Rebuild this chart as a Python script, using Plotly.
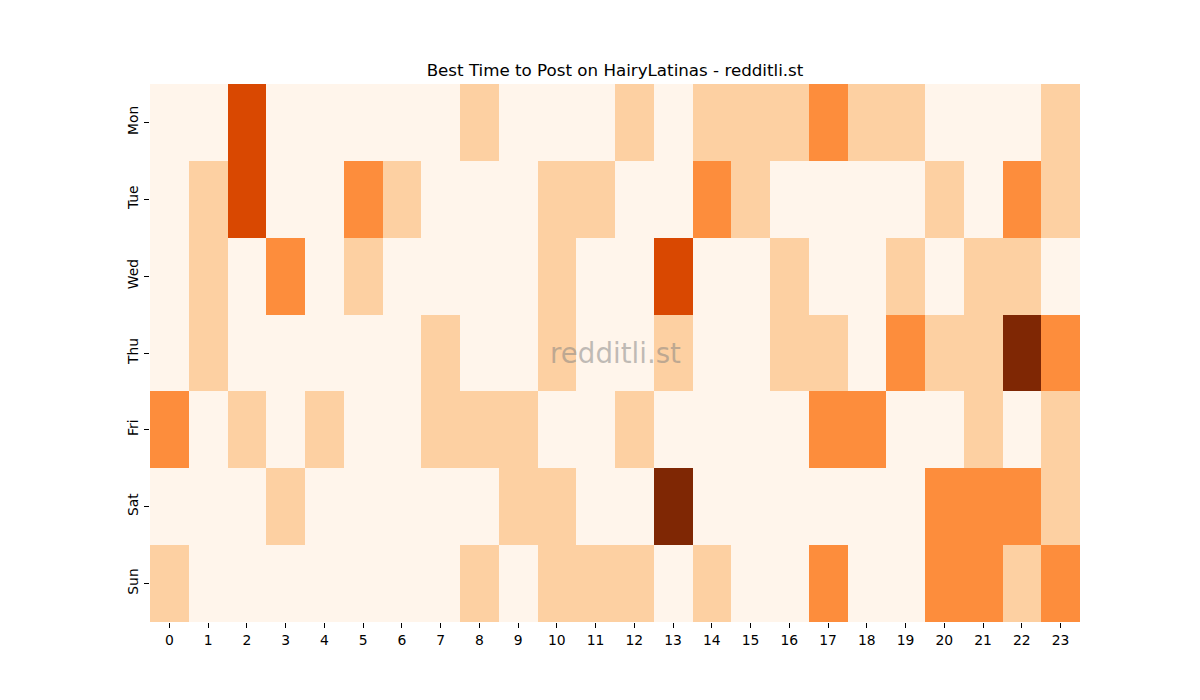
import plotly.graph_objects as go

hours = [str(h) for h in range(24)]
days = ["Mon", "Tue", "Wed", "Thu", "Fri", "Sat", "Sun"]

mon = [0, 0, 3, 0, 0, 0, 0, 0, 1, 0, 0, 0, 1, 0, 1, 1, 1, 2, 1, 1, 0, 0, 0, 1]
tue = [0, 1, 3, 0, 0, 2, 1, 0, 0, 0, 1, 1, 0, 0, 2, 1, 0, 0, 0, 0, 1, 0, 2, 1]
wed = [0, 1, 0, 2, 0, 1, 0, 0, 0, 0, 1, 0, 0, 3, 0, 0, 1, 0, 0, 1, 0, 1, 1, 0]
thu = [0, 1, 0, 0, 0, 0, 0, 1, 0, 0, 1, 0, 0, 1, 0, 0, 1, 1, 0, 2, 1, 1, 4, 2]
fri = [2, 0, 1, 0, 1, 0, 0, 1, 1, 1, 0, 0, 1, 0, 0, 0, 0, 2, 2, 0, 0, 1, 0, 1]
sat = [0, 0, 0, 1, 0, 0, 0, 0, 0, 1, 1, 0, 0, 4, 0, 0, 0, 0, 0, 0, 2, 2, 2, 1]
sun = [1, 0, 0, 0, 0, 0, 0, 0, 1, 0, 1, 1, 1, 0, 1, 0, 0, 2, 0, 0, 2, 2, 1, 2]

z = [mon, tue, wed, thu, fri, sat, sun]

oranges = [
    [0.0, "#fff5eb"],
    [0.25, "#fdd0a2"],
    [0.5, "#fd8d3c"],
    [0.75, "#d94801"],
    [1.0, "#7f2704"],
]

fig = go.Figure(
    go.Heatmap(
        z=z,
        x=hours,
        y=days,
        colorscale=oranges,
        zmin=0,
        zmax=4,
        showscale=False,
        xgap=0,
        ygap=0,
    )
)

fig.update_layout(
    width=1200,
    height=700,
    paper_bgcolor="white",
    plot_bgcolor="white",
    margin=dict(l=142, r=128, t=76, b=86),
    title=dict(
        text="Best Time to Post on HairyLatinas - redditli.st",
        x=607 / 1200,
        xanchor="center",
        y=1 - 62 / 700,
        yanchor="middle",
        font=dict(family="DejaVu Sans", size=16.7, color="black"),
    ),
    font=dict(family="DejaVu Sans", size=13.9, color="black"),
    annotations=[
        dict(
            text="redditli.st",
            x=0.5,
            y=0.5,
            xref="paper",
            yref="paper",
            showarrow=False,
            font=dict(family="DejaVu Sans", size=27.7, color="rgba(128,128,128,0.5)"),
        )
    ],
)

fig.update_xaxes(
    ticks="outside",
    ticklen=5,
    tickcolor="black",
    showgrid=False,
    zeroline=False,
    showline=False,
    tickfont=dict(size=13.9),
)
fig.update_yaxes(
    autorange="reversed",
    ticks="outside",
    ticklen=5,
    tickcolor="black",
    tickangle=-90,
    showgrid=False,
    zeroline=False,
    showline=False,
    tickfont=dict(size=13.9),
)

fig.write_html("out.html")
